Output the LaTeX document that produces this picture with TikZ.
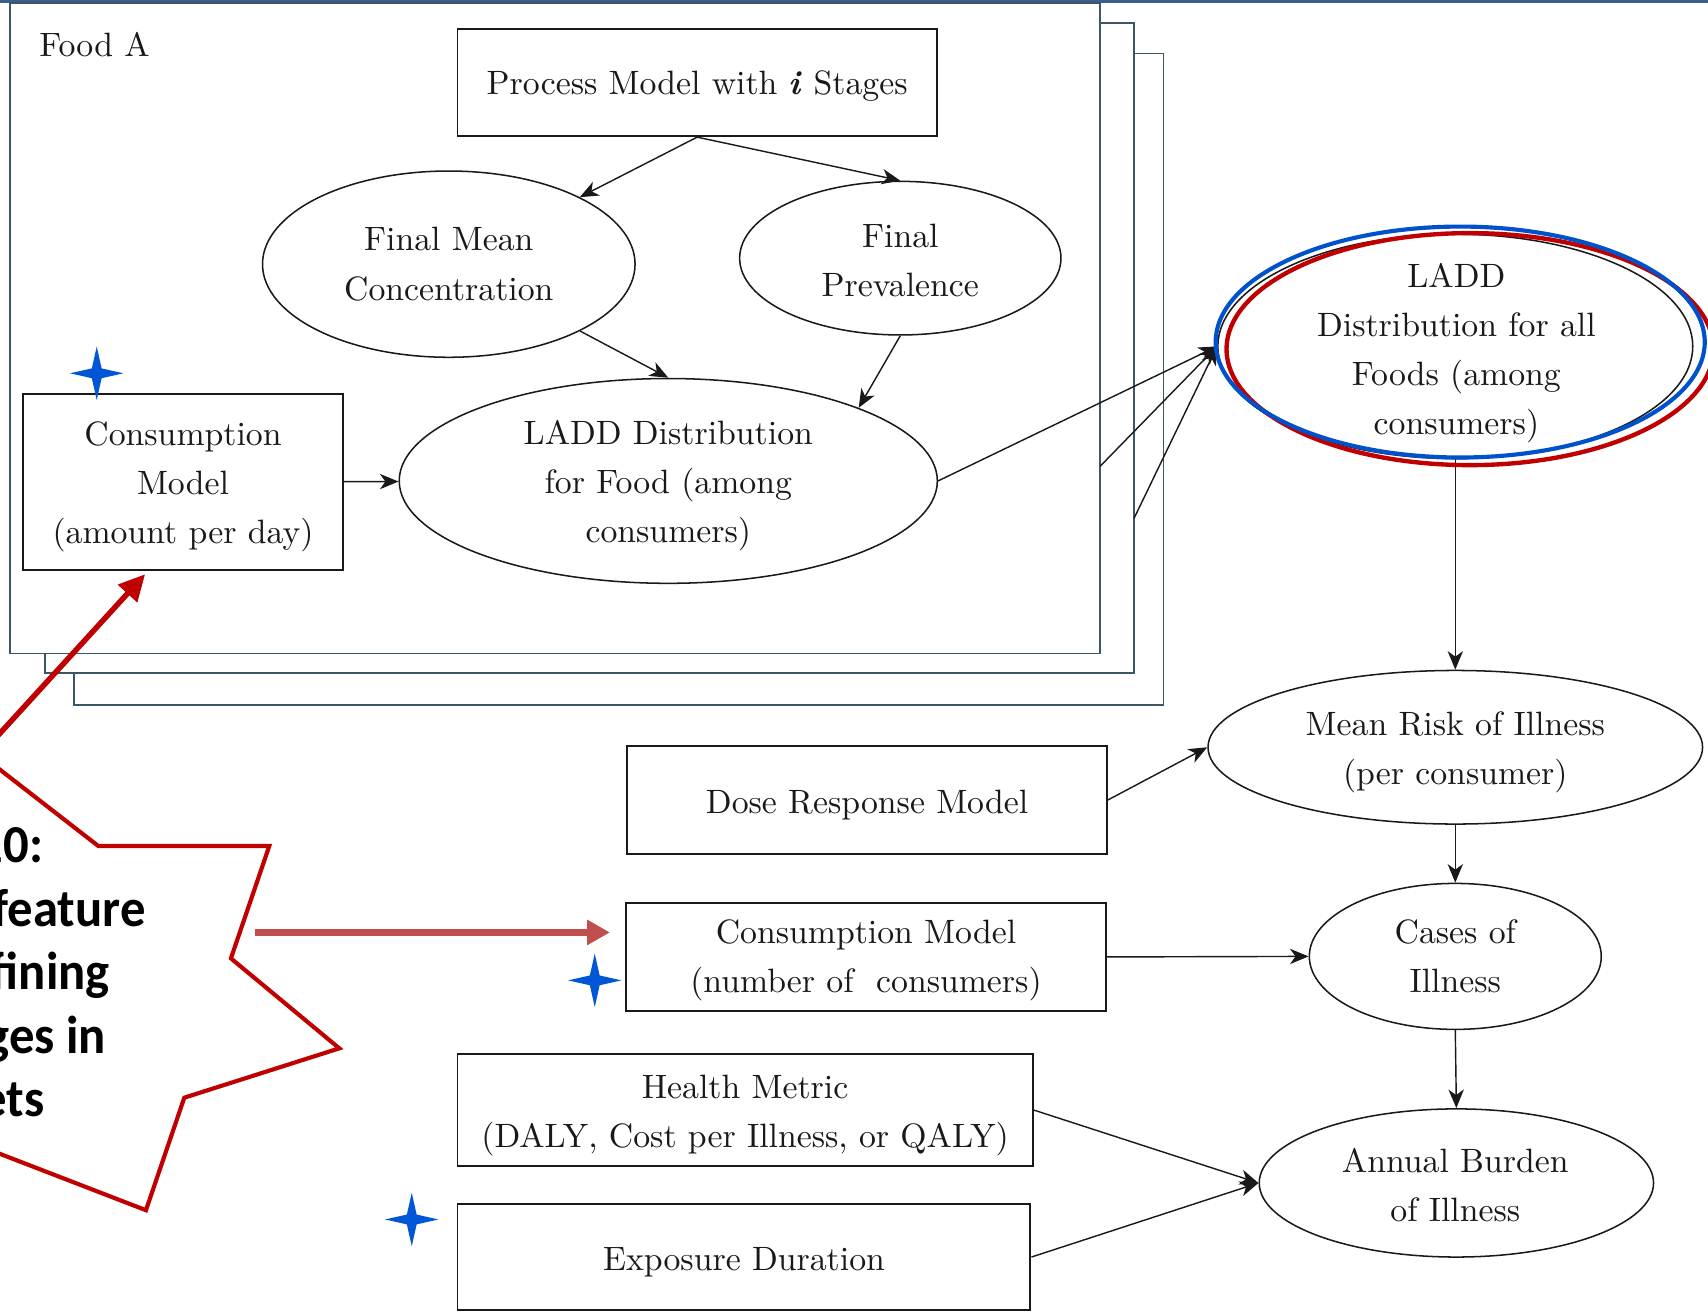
\documentclass[tikz,border=0pt]{standalone}
\usepackage{fontspec}
\usepackage{graphicx}
\setmainfont{lmroman10-regular.otf}[
  BoldFont=lmroman10-bold.otf,
  ItalicFont=lmroman10-italic.otf,
  BoldItalicFont=lmroman10-bolditalic.otf]
\newfontfamily\calloutfont{Carlito}
\usetikzlibrary{shapes.geometric,arrows.meta}

\definecolor{ink}{RGB}{25,25,25}
\definecolor{topbar}{RGB}{58,94,140}
\definecolor{frameline}{RGB}{60,86,102}
\definecolor{starblue}{RGB}{0,86,214}
\definecolor{ringblue}{RGB}{0,82,204}
\definecolor{ringred}{RGB}{192,0,0}
\definecolor{calloutred}{RGB}{192,0,0}
\definecolor{pointerred}{RGB}{192,80,77}

\begin{document}
\begin{tikzpicture}[x=1pt,y=-1pt,
  every node/.style={font=\fontsize{31}{45}\selectfont, text=ink},
  box/.style={draw=ink, line width=1.8pt, rectangle, inner sep=0pt},
  oval/.style={draw=ink, line width=1.4pt, ellipse, inner sep=0pt},
  txt/.style={align=center, inner sep=0pt},
  flow/.style={draw=ink, line width=1.3pt, -{Stealth[length=17pt,width=14pt,inset=5pt]}},
  plate/.style={draw=frameline, line width=1.6pt, fill=white},
  callout/.style={font=\calloutfont\bfseries\fontsize{49}{58}\selectfont, text=black, anchor=base east, inner sep=0pt},
  sparkle/.pic={\fill[starblue] (0,-24.5) -- (4.5,-4.5) -- (24.5,0) -- (4.5,4.5) -- (0,24.5) -- (-4.5,4.5) -- (-24.5,0) -- (-4.5,-4.5) -- cycle;}
]
\useasboundingbox (0,0) rectangle (1568,1203.6);
\begin{scope}
\clip (0,0) rectangle (1568,1203.6);

% header rule
\fill[topbar] (0,0) rectangle (1568,2.3);

% stacked food plates
\draw[plate] (68,49) rectangle (1068,647);
\draw[plate] (41,21) rectangle (1041,618);
\draw[plate] (9,3) rectangle (1010,600);
\coordinate (edgeA) at (1010,428);
\coordinate (edgeB) at (1041,476);

\node[anchor=base west, inner sep=0pt] (foodA) at (36,52) {Food A};

% single-food exposure model
\node[box, minimum width=440pt, minimum height=98pt] (pm) at (640,76) {};
\node[txt, yshift=-3pt] (pmText) at (pm) {Process Model with \textbf{\textit{i}} Stages};
\node[oval, minimum width=342pt, minimum height=171pt] (fmc) at (412,242.5) {};
\node[txt] (fmcText) at (fmc) {Final Mean\\Concentration};
\node[oval, minimum width=295pt, minimum height=141pt] (fp) at (826.5,237) {};
\node[txt] (fpText) at (826.5,239) {Final\\Prevalence};
\node[oval, minimum width=494pt, minimum height=188pt] (lf) at (613.5,441.5) {};
\node[txt, yshift=-4pt] (lfText) at (lf) {LADD Distribution\\for Food (among\\consumers)};
\node[box, minimum width=294pt, minimum height=161pt] (cm) at (168,442.5) {};
\node[txt, yshift=-4pt] (cmText) at (cm) {Consumption\\Model\\(amount per day)};

% population and burden model
\node[oval, minimum width=436pt, minimum height=206pt] (la) at (1336,318) {};
\node[txt, yshift=-4pt] (laText) at (1337,320) {LADD\\Distribution for all\\Foods (among\\consumers)};
\node[oval, minimum width=454pt, minimum height=141pt] (mr) at (1336,686) {};
\node[txt, yshift=-4.5pt] (mrText) at (mr) {Mean Risk of Illness\\(per consumer)};
\node[oval, minimum width=268pt, minimum height=134pt] (ci) at (1336,878) {};
\node[txt] (ciText) at (ci) {Cases of\\Illness};
\node[oval, minimum width=362pt, minimum height=136pt] (ab) at (1337,1086) {};
\node[txt] (abText) at (1336,1088) {Annual Burden\\of Illness};

\node[box, minimum width=440pt, minimum height=99pt] (dr) at (796,734.5) {};
\node[txt, yshift=-5pt] (drText) at (dr) {Dose Response Model};
\node[box, minimum width=440pt, minimum height=99pt] (cn) at (795,878.5) {};
\node[txt, yshift=-3pt] (cnText) at (cn) {Consumption Model\\(number of\ \ consumers)};
\node[box, minimum width=528pt, minimum height=102pt] (hm) at (684,1019) {};
\node[txt, yshift=-5.5pt] (hmText) at (hm) {Health Metric\\(DALY, Cost per Illness, or QALY)};
\node[box, minimum width=526pt, minimum height=97pt] (ed) at (683,1154) {};
\node[txt, yshift=-5pt] (edText) at (ed) {Exposure Duration};

% connectors
\draw[flow] (pm.south) -- (fmc);
\draw[flow] (pm.south) -- (fp.north);
\draw[flow] (fmc.-27) -- (lf.north);
\draw[flow] (fp.south) -- (lf.21);
\draw[flow] (cm) -- (lf);
\draw[flow] (lf.east) -- (la.west);
\draw[flow] (edgeA) -- (la.west);
\draw[flow] (edgeB) -- (la.west);
\draw[flow] (la.south) -- (mr.north);
\draw[flow] (dr.east) -- (mr.west);
\draw[flow] (mr.south) -- (ci.north);
\draw[flow] (cn.east) -- (ci.west);
\draw[flow] (ci.south) -- (ab.north);
\draw[flow] (hm.east) -- (ab.west);
\draw[flow] (ed.east) -- (ab.west);

% highlight rings
\draw[ringred, line width=4pt] (1349.5,320.5) ellipse [x radius=223.5, y radius=106.5];
\draw[ringblue, line width=3.8pt] (1340.5,314) ellipse [x radius=224.5, y radius=106];

% callout burst
\draw[calloutred, line width=3.8pt, fill=white, line join=miter]
  (-60,660) -- (90.3,776.7) -- (247.2,776.7) -- (212,879.8) -- (311.5,962.4)
  -- (169.2,1007.7) -- (134,1111) -- (-50,1040) -- (-300,1040) -- (-300,660) -- cycle;
\node[callout] (t1) at (40,792) {\scalebox{0.95}[1]{10:}};
\node[callout] (t2) at (134,850.7) {\scalebox{0.95}[1]{feature}};
\node[callout] (t3) at (101,908) {\scalebox{0.95}[1]{fining}};
\node[callout] (t4) at (97.5,967) {\scalebox{0.95}[1]{ges in}};
\node[callout] (t5) at (41,1025) {\scalebox{0.95}[1]{ets}};

\coordinate (burstTip) at (-40,717);
\coordinate (cmFoot) at (133.2,527.2);
\draw[calloutred, line width=5pt, -{Triangle[length=24pt,width=23pt]}] (burstTip) -- (cmFoot);
\coordinate (burstEdge) at (234,856);
\coordinate (cnFront) at (560,856);
\draw[pointerred, line width=7pt, -{Triangle[length=21pt,width=22pt]}] (burstEdge) -- (cnFront);

% markers
\pic at (88.8,342.7) {sparkle};
\pic at (546,900) {sparkle};
\pic at (378,1119.5) {sparkle};
\end{scope}
\end{tikzpicture}
\end{document}
